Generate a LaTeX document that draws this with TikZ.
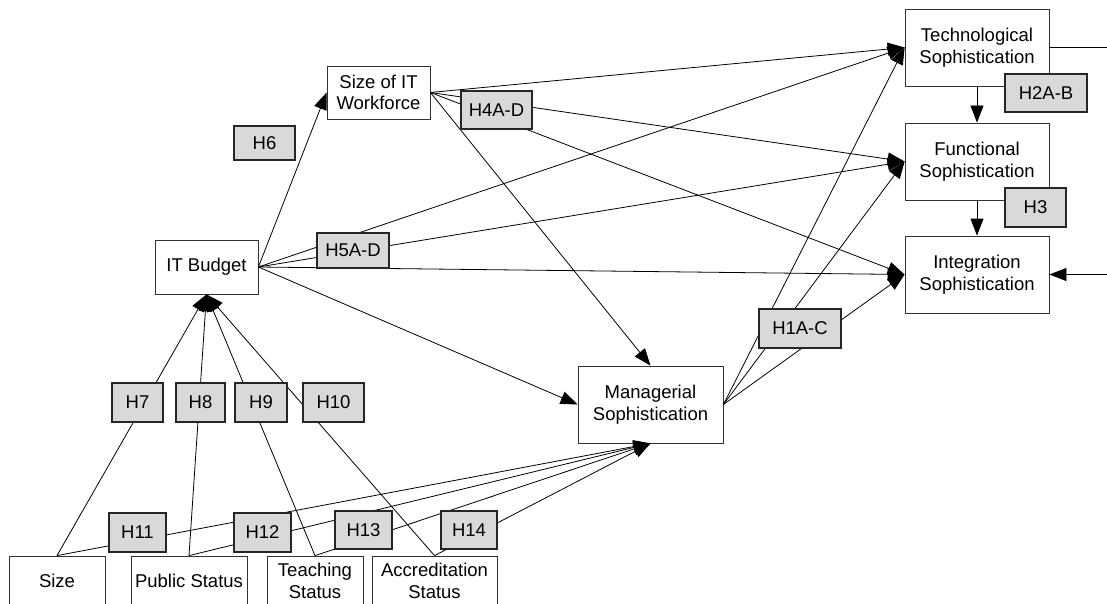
\documentclass[tikz,border=0pt]{standalone}
\usepackage{fontspec}
\setmainfont{Liberation Sans}
\usetikzlibrary{arrows.meta}
\definecolor{hypgray}{RGB}{217,217,217}
\begin{document}
\begin{tikzpicture}[x=1pt,y=-1pt,
  box/.style={draw=black!80, line width=0.8pt, fill=white, align=center, inner sep=0pt, font=\fontsize{18.5}{21.5}\selectfont},
  hyp/.style={draw=black!85, line width=1.3pt, fill=hypgray, inner sep=0pt, font=\fontsize{18.5}{21.5}\selectfont},
  conn/.style={line width=0.8pt, black},
  arr/.style={conn, -{Triangle[length=17pt,width=13pt]}},
]
\useasboundingbox (0,0) rectangle (1107,604);

% main boxes
\node[box, minimum width=103pt, minimum height=53pt] (wf) at (378.5,92.5) {Size of IT\\Workforce};
\node[box, minimum width=103pt, minimum height=54pt] (bud) at (206.5,267) {IT Budget};
\node[box, minimum width=144pt, minimum height=77pt] (tech) at (977,47.5) {Technological\\Sophistication};
\node[box, minimum width=144pt, minimum height=77pt] (func) at (977,161.5) {Functional\\Sophistication};
\node[box, minimum width=144pt, minimum height=77pt] (integ) at (977,274.5) {Integration\\Sophistication};
\node[box, minimum width=145pt, minimum height=77pt] (man) at (650.5,404.5) {Managerial\\Sophistication};
\node[box, minimum width=96pt, minimum height=50pt] (size) at (57,581) {Size};
\node[box, minimum width=116pt, minimum height=50pt] (pub) at (189,581) {Public Status};
\node[box, minimum width=96pt, minimum height=50pt] (teach) at (315,581) {Teaching\\Status};
\node[box, minimum width=125pt, minimum height=50pt] (acc) at (434.5,581) {Accreditation\\Status};

% connectors
\draw[arr] (bud.east) -- (wf.west);
\foreach \tgt in {tech,func,integ} \draw[arr] (wf.east) -- (\tgt.west);
\draw[arr] (wf.east) -- (man.north);
\foreach \tgt in {tech,func,integ} \draw[arr] (bud.east) -- (\tgt.west);
\draw[arr] (bud.east) -- (man.west);
\foreach \tgt in {tech,func,integ} \draw[arr] (man.east) -- (\tgt.west);
\draw[arr] (tech.south) -- (func.north);
\draw[arr] (func.south) -- (integ.north);
\coordinate (r1) at (1112,47.5);
\coordinate (r2) at (1112,274.5);
\draw[conn] (tech.east) -- (r1);
\draw[arr] (r2) -- (integ.east);
\foreach \src in {size,pub,teach,acc} {
  \draw[arr] (\src.north) -- (bud.south);
  \draw[arr] (\src.north) -- (man.south);
}

% hypothesis labels
\node[hyp, minimum width=61pt, minimum height=34pt] (h6) at (264.5,143) {H6};
\node[hyp, minimum width=71pt, minimum height=38pt] (h4) at (496.5,110) {H4A-D};
\node[hyp, minimum width=72pt, minimum height=35pt] (h5) at (353,250.5) {H5A-D};
\node[hyp, minimum width=82pt, minimum height=38pt] (h2) at (1046,93) {H2A-B};
\node[hyp, minimum width=61pt, minimum height=39pt] (h3) at (1035.5,207.5) {H3};
\node[hyp, minimum width=82pt, minimum height=39pt] (h1) at (800,328.5) {H1A-C};
\node[hyp, minimum width=51pt, minimum height=39pt] (h7) at (137.5,402.5) {H7};
\node[hyp, minimum width=49pt, minimum height=39pt] (h8) at (200.5,402.5) {H8};
\node[hyp, minimum width=52pt, minimum height=39pt] (h9) at (261,402.5) {H9};
\node[hyp, minimum width=61pt, minimum height=39pt] (h10) at (333.5,402.5) {H10};
\node[hyp, minimum width=57pt, minimum height=39pt] (h11) at (137.5,532.5) {H11};
\node[hyp, minimum width=57pt, minimum height=39pt] (h12) at (262.5,532.5) {H12};
\node[hyp, minimum width=57pt, minimum height=38pt] (h13) at (363.5,530) {H13};
\node[hyp, minimum width=56pt, minimum height=38pt] (h14) at (469,530) {H14};
\end{tikzpicture}
\end{document}
